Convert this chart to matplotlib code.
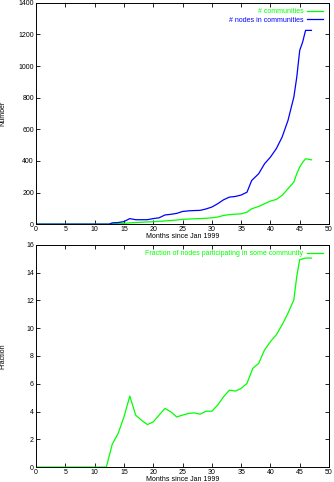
import matplotlib
matplotlib.use("Agg")
import matplotlib.pyplot as plt

plt.rcParams['font.family'] = ['Liberation Sans Narrow', 'Liberation Sans', 'DejaVu Sans']

# datos
meses_top = [0, 12.5, 13, 14, 15, 16, 17, 18, 19, 20, 21, 22, 23, 24, 25, 26, 27, 28, 29, 30, 31, 32, 33, 34, 35,
             36, 36.8, 38, 39, 40, 41, 42, 43, 44, 44.5, 45, 45.5, 46, 47]
nodos = [0, 0, 8, 10, 16, 35, 28, 28, 28, 35, 40, 58, 62, 68, 80, 84, 86, 87, 96, 108, 129, 154, 171, 175, 184,
         202, 276, 319, 382, 424, 477, 551, 656, 804, 930, 1099, 1152, 1226, 1226]
comunidades = [0, 0, 3, 4, 5, 8, 10, 12, 14, 15, 18, 20, 23, 26, 30, 32, 34, 35, 37, 40, 45, 55, 60, 63, 65,
               76, 97, 112, 129, 146, 156, 182, 224, 266, 319, 361, 390, 414, 407]

meses_bot = [0, 12, 13, 14, 15, 16, 17, 18, 19, 20, 21, 22, 23, 24, 25, 26, 27, 28, 29, 30, 31, 32, 33, 34, 35,
             36, 37, 38, 39, 40, 41, 42, 43, 44, 44.5, 45, 46, 47]
fraccion = [0, 0, 1.64, 2.41, 3.61, 5.11, 3.74, 3.37, 3.06, 3.25, 3.74, 4.22, 3.98, 3.61, 3.74, 3.86, 3.90, 3.81,
            4.02, 4.02, 4.46, 5.06, 5.54, 5.47, 5.66, 6.03, 7.11, 7.47, 8.43, 9.03, 9.52, 10.24, 11.08, 12.04,
            13.73, 14.93, 15.05, 15.05]

verde = '#00ff00'
azul = '#0000ff'

fig = plt.figure(figsize=(3.34, 4.82), dpi=100)
ax1 = fig.add_axes([0.108, 0.535, 0.877, 0.459])
ax2 = fig.add_axes([0.108, 0.031, 0.877, 0.461])

ax1.plot(meses_top, comunidades, color=verde, lw=0.9, label='# communities')
ax1.plot(meses_top, nodos, color=azul, lw=0.9, label='# nodes in communities')
ax1.set_ylim(0, 1400)
ax1.set_yticks(range(0, 1401, 200))
ax1.set_ylabel('Number', fontsize=5)

ax2.plot(meses_bot, fraccion, color=verde, lw=0.9, label='Fraction of nodes participating in some community')
ax2.set_ylim(0, 16)
ax2.set_yticks(range(0, 17, 2))
ax2.set_ylabel('Fraction', fontsize=5)

for ax in (ax1, ax2):
    ax.set_xlim(0, 50)
    ax.set_xticks(range(0, 51, 5))
    ax.set_xlabel('Months since Jan 1999', fontsize=5)
    ax.yaxis.set_label_coords(-0.1, 0.5)
    ax.xaxis.set_label_coords(0.5, -0.042)
    ax.tick_params(direction='in', length=3, width=0.6, labelsize=5, top=True, right=True, pad=1.5)
    for s in ax.spines.values():
        s.set_linewidth(0.7)
    ax.legend(loc='upper right', frameon=False, fontsize=5, markerfirst=False, handlelength=2.3,
              labelcolor='linecolor', borderaxespad=0.4, labelspacing=0.2, handletextpad=0.6)

fig.savefig('out.png', dpi=100)
